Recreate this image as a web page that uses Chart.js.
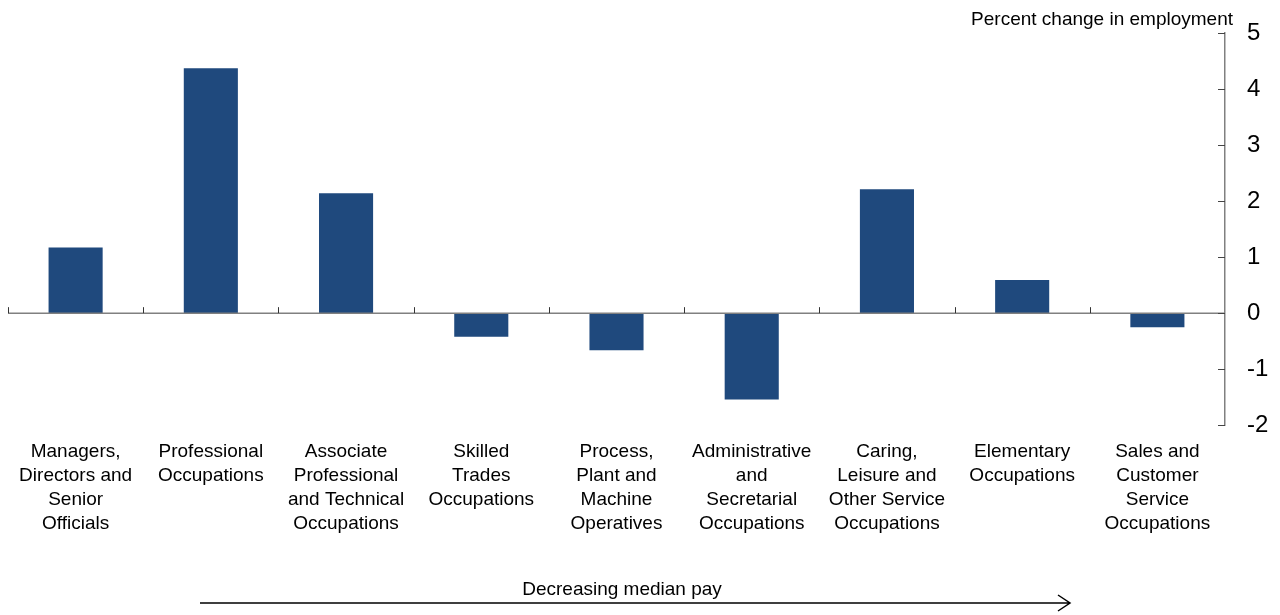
<!DOCTYPE html>
<html lang="en">
<head>
  <meta charset="UTF-8" />
  <title>Percent change in employment by occupation</title>
  <script src="https://cdn.jsdelivr.net/npm/chart.js"></script>
  <style>
    body {
      margin: 0;
      padding: 0;
      background: #fff;
    }
    .wrap {
      width: 1280px;
      height: 615px;
      position: relative;
    }
  </style>
</head>
<body>
  <div class="wrap">
    <canvas id="chart" width="1280" height="615"></canvas>
  </div>

  <script>
    const categories = [
      ['Managers,', 'Directors and', 'Senior', 'Officials'],
      ['Professional', 'Occupations'],
      ['Associate', 'Professional', 'and Technical', 'Occupations'],
      ['Skilled', 'Trades', 'Occupations'],
      ['Process,', 'Plant and', 'Machine', 'Operatives'],
      ['Administrative', 'and', 'Secretarial', 'Occupations'],
      ['Caring,', 'Leisure and', 'Other Service', 'Occupations'],
      ['Elementary', 'Occupations'],
      ['Sales and', 'Customer', 'Service', 'Occupations']
    ];
    const employmentChange = [1.17, 4.37, 2.14, -0.42, -0.66, -1.54, 2.21, 0.59, -0.25];
    const yTicks = [-2, -1, 0, 1, 2, 3, 4, 5];
    const axisTitle = 'Percent change in employment';
    const arrowLabel = 'Decreasing median pay';

    const FONT = '"Liberation Sans", Arial, sans-serif';
    const AXIS_GREY = '#808080';

    // zero line, inward ticks, title and the pay arrow
    const decorations = {
      id: 'decorations',
      afterDraw(chart) {
        const ctx = chart.ctx;
        const x = chart.scales.x;
        const y = chart.scales.y;
        const area = chart.chartArea;
        const zeroY = y.getPixelForValue(0);

        ctx.save();
        ctx.strokeStyle = AXIS_GREY;
        ctx.lineWidth = 1.5;

        // zero line across the plot
        ctx.beginPath();
        ctx.moveTo(area.left, zeroY);
        ctx.lineTo(area.right, zeroY);
        ctx.stroke();

        // category boundary ticks pointing up from the zero line
        ctx.strokeStyle = '#333';
        ctx.lineWidth = 1;
        const half = (x.getPixelForValue(1) - x.getPixelForValue(0)) / 2;
        for (let i = 0; i < categories.length; i++) {
          const bx = Math.round(x.getPixelForValue(i) - half) + 0.5;
          ctx.beginPath();
          ctx.moveTo(bx, zeroY);
          ctx.lineTo(bx, zeroY - 6);
          ctx.stroke();
        }

        // y ticks pointing into the plot
        ctx.strokeStyle = '#444';
        yTicks.forEach(v => {
          const ty = Math.round(y.getPixelForValue(v)) + 0.5;
          ctx.beginPath();
          ctx.moveTo(area.right, ty);
          ctx.lineTo(area.right - 7, ty);
          ctx.stroke();
        });

        // axis title, top right
        ctx.fillStyle = '#000';
        ctx.font = '19px ' + FONT;
        ctx.textAlign = 'right';
        ctx.textBaseline = 'alphabetic';
        ctx.fillText(axisTitle, 1233, 25);

        // arrow below the categories
        ctx.textAlign = 'center';
        ctx.fillText(arrowLabel, 622, 595);
        ctx.strokeStyle = '#000';
        ctx.lineWidth = 1.5;
        ctx.beginPath();
        ctx.moveTo(200, 603);
        ctx.lineTo(1070, 603);
        ctx.moveTo(1058, 595);
        ctx.lineTo(1070, 603);
        ctx.lineTo(1058, 611);
        ctx.stroke();
        ctx.restore();
      }
    };

    new Chart(document.getElementById('chart'), {
      type: 'bar',
      data: {
        labels: categories,
        datasets: [{
          data: employmentChange,
          backgroundColor: '#1f497d',
          borderWidth: 0,
          barPercentage: 0.4,
          categoryPercentage: 1.0
        }]
      },
      options: {
        responsive: false,
        animation: false,
        layout: {
          padding: { top: 33, left: 8, right: 0, bottom: 72 }
        },
        plugins: {
          legend: { display: false },
          tooltip: { enabled: false }
        },
        scales: {
          x: {
            offset: true,
            grid: { display: false },
            border: { display: false },
            ticks: {
              autoSkip: false,
              maxRotation: 0,
              minRotation: 0,
              padding: 7,
              color: '#000',
              font: { family: FONT, size: 19, lineHeight: 1.26 }
            }
          },
          y: {
            position: 'right',
            min: -2,
            max: 5,
            grid: { display: false, drawTicks: false },
            border: { display: true, color: AXIS_GREY, width: 1.5 },
            afterBuildTicks(scale) {
              scale.ticks = yTicks.map(v => ({ value: v }));
            },
            afterFit(scale) {
              scale.width = 55;
              scale.paddingTop = 0;
              scale.paddingBottom = 0;
            },
            ticks: {
              padding: 22,
              color: '#000',
              font: { family: FONT, size: 24 }
            }
          }
        }
      },
      plugins: [decorations]
    });
  </script>
</body>
</html>
